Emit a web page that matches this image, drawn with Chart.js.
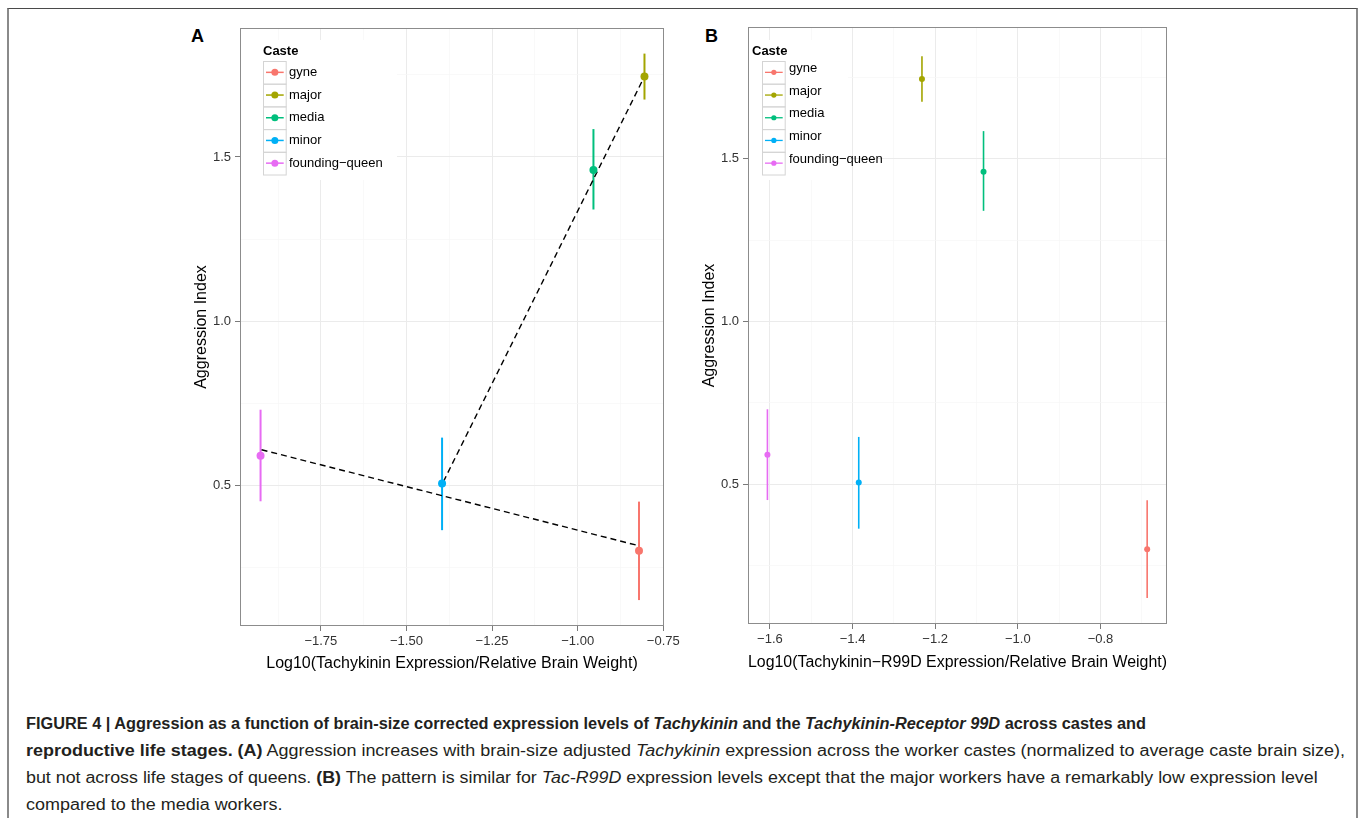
<!DOCTYPE html>
<html>
<head>
<meta charset="utf-8">
<script src="https://cdn.jsdelivr.net/npm/chart.js@4.4.1/dist/chart.umd.min.js"></script>
<style>
  html, body { margin: 0; padding: 0; background: #fff; }
  body { width: 1358px; height: 818px; position: relative; overflow: hidden;
         font-family: "Liberation Sans", Arial, Helvetica, sans-serif; }
  .frame { position: absolute; left: 7px; top: 8px; width: 1347px; height: 830px;
           border-top: 1px solid #4a4a4a; border-left: 2px solid #8a8a8a; border-right: 2px solid #8a8a8a; }
  .panel-letter { position: absolute; font-weight: bold; font-size: 18px; color: #000; line-height: 18px; }
  canvas { position: absolute; }
  .caption { position: absolute; left: 26px; top: 710px; font-size: 16px; line-height: 27px; color: #231f20; }
  .caption div { white-space: nowrap; width: max-content; transform-origin: 0 50%; }
</style>
</head>
<body>
<div class="frame"></div>
<div class="panel-letter" style="left:191px; top:27px;">A</div>
<div class="panel-letter" style="left:705px; top:27px;">B</div>
<canvas id="chartA" width="492" height="673" style="left:192px; top:0;"></canvas>
<canvas id="chartB" width="487" height="672" style="left:700px; top:0;"></canvas>
<div class="caption">
  <div><b>FIGURE 4 | Aggression as a function of brain-size corrected expression levels of <i>Tachykinin</i> and the <i>Tachykinin-Receptor 99D</i> across castes and</b></div>
  <div><b>reproductive life stages. (A)</b> Aggression increases with brain-size adjusted <i>Tachykinin</i> expression across the worker castes (normalized to average caste brain size),</div>
  <div>but not across life stages of queens. <b>(B)</b> The pattern is similar for <i>Tac-R99D</i> expression levels except that the major workers have a remarkably low expression level</div>
  <div>compared to the media workers.</div>
</div>
<script>
// Aggression vs brain-size corrected expression, two panels (A: Tachykinin, B: Tachykinin-R99D).
const castes = ['gyne', 'major', 'media', 'minor', 'founding-queen'];
const legendLabels = ['gyne', 'major', 'media', 'minor', 'founding\u2212queen'];
const casteColors = ['#F8766D', '#A3A500', '#00BF7D', '#00B0F6', '#E76BF3'];

// Aggression index (mean and error bar ends), same order as castes
const aggression = [0.30, 1.745, 1.46, 0.505, 0.59];
const aggrLow = [0.15, 1.675, 1.34, 0.363, 0.451];
const aggrHigh = [0.45, 1.815, 1.585, 0.645, 0.73];

// x values
const tacExpr = [-0.821, -0.805, -0.954, -1.396, -1.926];
const r99dExpr = [-0.687, -1.232, -1.083, -1.385, -1.606];

// dashed fit lines in panel A (end points)
const queenFitX = [-1.923, -0.827];
const queenFitY = [0.608, 0.317];
const workerFitX = [-1.392, -0.81];
const workerFitY = [0.511, 1.735];

// ticks
const yMajor = [0.5, 1.0, 1.5];
const yMinor = [0.25, 0.75, 1.25, 1.75];
const xMajorA = [-1.75, -1.5, -1.25, -1.0, -0.75];
const xMinorA = [-1.875, -1.625, -1.375, -1.125, -0.875];
const xMajorB = [-1.6, -1.4, -1.2, -1.0, -0.8];
const xMinorB = [-1.5, -1.3, -1.1, -0.9, -0.7];

const FONT = '"Liberation Sans", Arial, Helvetica, sans-serif';
const isIn = (list, v) => list.some(m => Math.abs(m - v) < 1e-9);
const minus = s => s.replace('-', '\u2212');

// caption lines stretched to the widths they have in the figure
const captionWidths = [1120, 1319, 1292, 257];
document.querySelectorAll('.caption div').forEach((d, i) => {
  d.style.transform = 'scaleX(' + (captionWidths[i] / d.offsetWidth) + ')';
});

const panelDecor = {
  id: 'panelDecor',
  afterDatasetsDraw(chart, args, L) {
    const { ctx, chartArea: a } = chart;
    ctx.save();
    // legend box
    ctx.fillStyle = '#fff';
    ctx.fillRect(L.bgX, L.bgY, L.bgW, L.bgH);
    ctx.textBaseline = 'middle';
    ctx.fillStyle = '#000';
    ctx.font = 'bold 13px ' + FONT;
    ctx.fillText('Caste', L.titleX, L.titleY);
    ctx.font = '13px ' + FONT;
    castes.forEach((c, i) => {
      const top = L.keyY + i * L.keySize;
      const cy = top + L.keySize / 2;
      ctx.strokeStyle = '#d4d4d4';
      ctx.lineWidth = 1;
      ctx.strokeRect(L.keyX + 0.5, top + 0.5, L.keySize, L.keySize);
      ctx.strokeStyle = casteColors[i];
      ctx.lineWidth = L.lineW;
      ctx.beginPath();
      ctx.moveTo(L.keyX + 3, cy);
      ctx.lineTo(L.keyX + L.keySize - 2, cy);
      ctx.stroke();
      ctx.fillStyle = casteColors[i];
      ctx.beginPath();
      ctx.arc(L.keyX + L.keySize / 2 + 0.5, cy, L.dotR, 0, Math.PI * 2);
      ctx.fill();
      ctx.fillStyle = '#000';
      ctx.fillText(legendLabels[i], L.labelX, cy + L.labelDy);
    });
    // panel border
    ctx.strokeStyle = '#8c8c8c';
    ctx.lineWidth = 1;
    ctx.strokeRect(a.left + 0.5, a.top + 0.5, a.width - 1, a.height - 1);
    ctx.restore();
  }
};

function makePanel(id, xs, o) {
  const datasets = [];
  // points on top
  datasets.push({
    type: 'scatter',
    data: xs.map((x, i) => ({ x, y: aggression[i] })),
    pointBackgroundColor: casteColors,
    pointBorderWidth: 0,
    pointRadius: o.pointR,
    order: 0,
  });
  (o.fits || []).forEach(f => {
    datasets.push({
      type: 'line',
      data: f.x.map((x, i) => ({ x, y: f.y[i] })),
      borderColor: '#000',
      borderWidth: 1.4,
      borderDash: [6, 4],
      pointRadius: 0,
      order: 1,
    });
  });
  xs.forEach((x, i) => {
    datasets.push({
      type: 'line',
      data: [{ x, y: aggrLow[i] }, { x, y: aggrHigh[i] }],
      borderColor: casteColors[i],
      borderWidth: o.errW,
      pointRadius: 0,
      order: 2,
    });
  });

  const gridOpts = (major) => ({
    color: ctx => isIn(major, ctx.tick.value) ? '#ebebeb' : '#f6f6f6',
    lineWidth: ctx => isIn(major, ctx.tick.value) ? 1 : 0.7,
    tickColor: ctx => isIn(major, ctx.tick.value) ? '#7a7a7a' : 'rgba(0,0,0,0)',
    tickLength: 5,
    drawTicks: true,
  });

  return new Chart(document.getElementById(id), {
    data: { datasets },
    plugins: [panelDecor],
    options: {
      responsive: false,
      animation: false,
      layout: { padding: { left: 0, top: o.padTop, right: 20, bottom: 0 } },
      plugins: {
        legend: { display: false },
        tooltip: { enabled: false },
        panelDecor: o.legend,
      },
      scales: {
        x: {
          type: 'linear',
          min: o.xMin, max: o.xMax,
          afterBuildTicks: s => { s.ticks = o.xMajor.concat(o.xMinor).sort((a, b) => a - b).map(v => ({ value: v })); },
          afterFit: s => { s.height = o.xAxisH; },
          grid: gridOpts(o.xMajor),
          border: { display: false },
          ticks: {
            autoSkip: false, maxRotation: 0, padding: 3, color: '#333',
            font: { family: FONT, size: 13 },
            callback: v => isIn(o.xMajor, v) ? minus(v.toFixed(o.xDec)) : '',
          },
          title: { display: true, text: o.xTitle, color: '#000', padding: 0, font: { family: FONT, size: 16 } },
        },
        y: {
          type: 'linear',
          min: o.yMin, max: o.yMax,
          afterBuildTicks: s => { s.ticks = yMajor.concat(yMinor).sort((a, b) => a - b).map(v => ({ value: v })); },
          afterFit: s => { s.width = 48; },
          grid: gridOpts(yMajor),
          border: { display: false },
          ticks: {
            autoSkip: false, padding: 4, color: '#333',
            font: { family: FONT, size: 13 },
            callback: v => isIn(yMajor, v) ? v.toFixed(1) : '',
          },
          title: { display: true, text: 'Aggression Index', color: '#000', padding: 0, font: { family: FONT, size: 16 } },
        },
      },
    },
  });
}

makePanel('chartA', tacExpr, {
  xMin: -1.986, xMax: -0.748, yMin: 0.071, yMax: 1.893,
  xMajor: xMajorA, xMinor: xMinorA, xDec: 2,
  xTitle: 'Log10(Tachykinin Expression/Relative Brain Weight)',
  padTop: 28, xAxisH: 47, pointR: 4, errW: 2,
  fits: [{ x: queenFitX, y: queenFitY }, { x: workerFitX, y: workerFitY }],
  legend: { bgX: 49, bgY: 40, bgW: 156, bgH: 140, titleX: 71, titleY: 51,
            keyX: 71, keyY: 61, keySize: 22.7, lineW: 1.5, dotR: 3.5, labelX: 97, labelDy: 0 },
});

makePanel('chartB', r99dExpr, {
  xMin: -1.653, xMax: -0.639, yMin: 0.070, yMax: 1.905,
  xMajor: xMajorB, xMinor: xMinorB, xDec: 1,
  xTitle: 'Log10(Tachykinin\u2212R99D Expression/Relative Brain Weight)',
  padTop: 27, xAxisH: 48, pointR: 3, errW: 1.6,
  fits: [],
  legend: { bgX: 48, bgY: 40, bgW: 100, bgH: 140, titleX: 52, titleY: 51,
            keyX: 62, keyY: 61, keySize: 22.7, lineW: 1.3, dotR: 2.6, labelX: 89, labelDy: -4 },
});
</script>
</body>
</html>
